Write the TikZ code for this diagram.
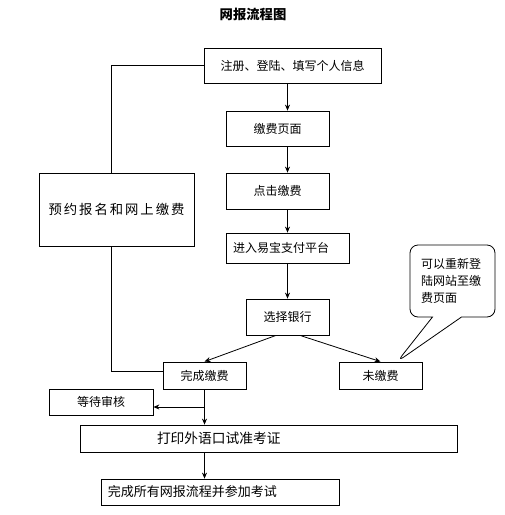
\documentclass[tikz,border=0pt]{standalone}
\usepackage{fontspec}
\setmainfont{Noto Sans CJK SC}
\newfontfamily\widecjk[LetterSpace=15]{Noto Sans CJK SC}
\usetikzlibrary{arrows.meta,calc,shapes.callouts}

\begin{document}
\begin{tikzpicture}[x=0.75pt,y=0.75pt,yscale=-1,xscale=1,
	box/.style={draw,line width=0.6pt,inner sep=0pt,font=\fontsize{9}{11}\selectfont},
	flow/.style={line width=0.6pt,-{Stealth[length=4.5pt,width=3.8pt]}},
	link/.style={line width=0.6pt}]
			\useasboundingbox (0,0) rectangle (505,515);
			
			\node[font=\bfseries\fontsize{10}{12}\selectfont] (title) at (253,14) {网报流程图};
			
			\node[box,minimum width=132.75pt,minimum height=26.25pt] (reg) at (292.5,65.5) {注册、登陆、填写个人信息};
			\node[box,minimum width=77.25pt,minimum height=26.25pt] (page) at (277.5,128.5) {缴费页面};
			\node[box,minimum width=77.25pt,minimum height=27pt] (click) at (277.5,191) {点击缴费};
			\node[box,minimum height=22.5pt,text width=81.75pt,inner xsep=5.25pt,align=left] (yibao) at (287.5,248) {进入易宝支付平台};
			\node[box,minimum width=62.25pt,minimum height=27pt] (bank) at (287.5,317) {选择银行};
			\node[box,minimum width=62.25pt,minimum height=20.25pt] (done) at (204.5,375.5) {完成缴费};
			\node[box,minimum width=62.25pt,minimum height=20.25pt] (unpaid) at (380.5,375.5) {未缴费};
			\node[box,minimum width=78pt,minimum height=19.5pt] (wait) at (101,402) {等待审核};
			\node[box,minimum height=20.25pt,text width=167.25pt,inner xsep=57.75pt,align=left,font=\fontsize{10.3}{12}\selectfont] (print) at (268.5,438.5) {打印外语口试准考证};
			\node[box,minimum height=19.5pt,text width=168pt,inner xsep=5.25pt,align=left,font=\fontsize{9.75}{12}\selectfont] (final) at (220,492) {完成所有网报流程并参加考试};
			\node[box,minimum width=116.25pt,minimum height=54.75pt,font=\widecjk\fontsize{10}{12}\selectfont] (ahead) at (116.5,209.5) {预约报名和网上缴费};
			
			\coordinate (tip) at ($(unpaid.north west)!0.7!(unpaid.north east)$);
			\node[box,rectangle callout,rounded corners=6pt,minimum height=54pt,text width=47.25pt,inner xsep=8.25pt,align=left,
				callout absolute pointer={(tip)},callout pointer width=21.75pt,
				font=\fontsize{9}{12.75}\selectfont] (note) at (452.5,281) {可以重新登\\陆网站至缴\\费页面};
			
			\draw[flow] (reg.south -| bank.north) -- (page.north -| bank.north);
			\draw[flow] (page.south -| bank.north) -- (click.north -| bank.north);
			\draw[flow] (click.south -| bank.north) -- (yibao.north -| bank.north);
			\draw[flow] (yibao.south -| bank.north) -- (bank.north);
			\draw[flow] ($(bank.south)+(-11.5,0)$) -- (done.north);
			\draw[flow] ($(bank.south)+(12.5,0)$) -- (unpaid.north);
			\draw[flow] (done.south) -- (print.north -| done.south);
			\coordinate (fork) at ($(done.south)!0.5!(print.north -| done.south)$);
			\draw[flow] (fork) -- (fork -| wait.east);
			\draw[flow] (print.south -| done.south) -- (final.north -| done.south);
			
			\draw[link] (reg.west) -| ($(ahead.north)+(-5.5,0)$);
			\draw[link] ($(ahead.south)+(-5.5,0)$) |- ($(done.west)+(0,-4.5)$);
			\end{tikzpicture}
\end{document}
